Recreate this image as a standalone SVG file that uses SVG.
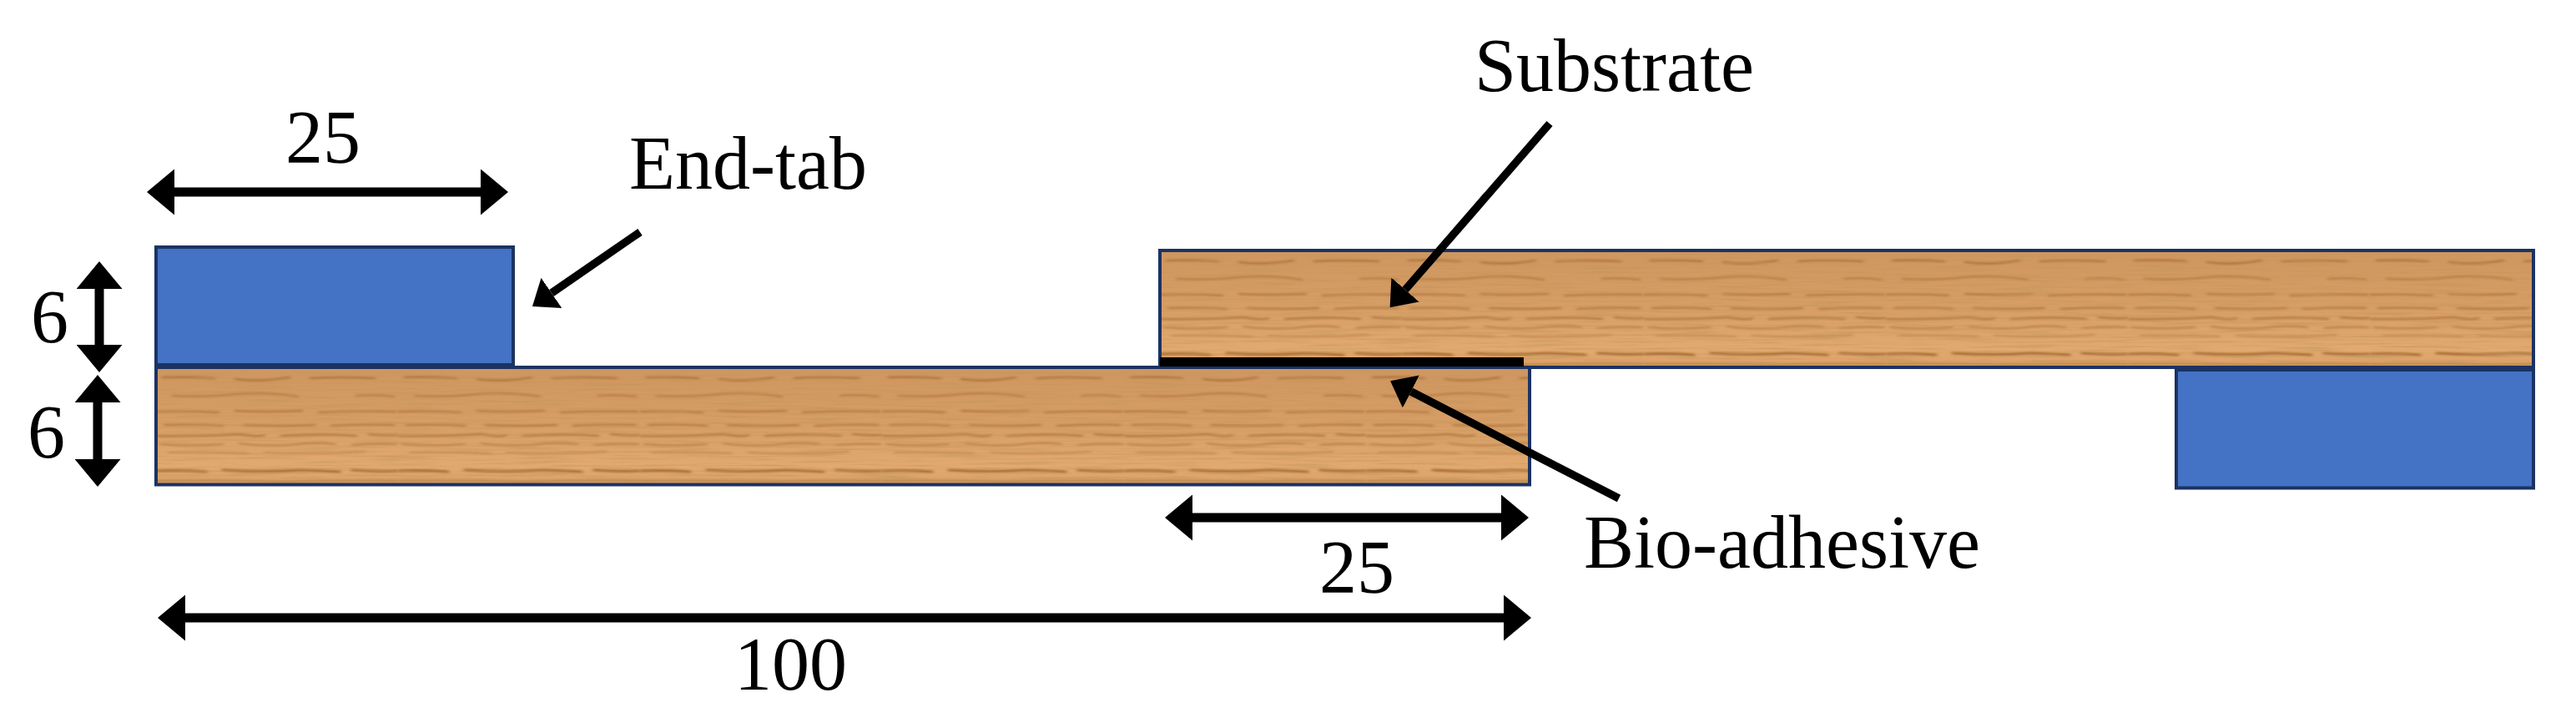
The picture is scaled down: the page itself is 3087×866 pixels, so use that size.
<svg xmlns="http://www.w3.org/2000/svg" width="3087" height="866" viewBox="0 0 3087 866">
<style>
text{font-family:"Liberation Serif","Times New Roman",serif;font-size:90px;fill:#000}
.tab{fill:#4472c4;stroke:#1b3362;stroke-width:4}
.wood{fill:url(#grain)}
.fine{filter:url(#noise)}
.edge{fill:none;stroke:#1b3362;stroke-width:4}
.dim{fill:none;stroke:#000;stroke-width:11;marker-start:url(#dimHead);marker-end:url(#dimHead)}
.lead{fill:none;stroke:#000;stroke-width:9.5;marker-end:url(#leadHead)}
</style>
<defs>
<linearGradient id="woodTone" x1="0" y1="0" x2="0" y2="1">
<stop offset="0" stop-color="#cf9661"/><stop offset=".5" stop-color="#d79e66"/><stop offset=".85" stop-color="#e2aa70"/><stop offset="1" stop-color="#d9a068"/>
</linearGradient>
<filter id="soft" x="-5%" y="-5%" width="110%" height="110%"><feGaussianBlur stdDeviation="2.2 0.9"/></filter>
<pattern id="grain" patternUnits="userSpaceOnUse" width="290" height="140">
<rect width="290" height="140" fill="url(#woodTone)"/>
<g fill="none" stroke="#9a5f28" stroke-linecap="round" filter="url(#soft)">
<path d="M8 12 Q40 11 70 13 M95 14 Q125 18 160 12 M185 13 Q220 11 262 13" stroke-width="2.6" opacity=".6"/>
<path d="M20 34 Q60 36 95 32 Q130 29 170 35 M240 34 Q265 32 285 35" stroke-width="2.6" opacity=".45"/>
<path d="M0 53 Q40 52 75 54 M95 52 Q130 54 175 52 M195 54 Q240 52 288 53" stroke-width="2.4" opacity=".55"/>
<path d="M10 69 Q55 68 80 70 M105 69 Q150 71 190 69 M210 70 Q250 68 285 69" stroke-width="2.4" opacity=".55"/>
<path d="M0 82 Q45 83 100 80 Q125 84 130 81 M150 82 Q200 79 240 82 M255 80 Q275 82 290 81" stroke-width="2.6" opacity=".6"/>
<path d="M5 92 Q40 95 80 92 M100 91 Q125 95 160 93 Q190 89 215 92 M235 93 Q265 91 288 92" stroke-width="2.2" opacity=".5"/>
<path d="M15 102 Q60 101 110 103 M130 102 Q190 105 250 101" stroke-width="2" opacity=".4"/>
<path d="M0 124 Q30 123 60 125 M80 123 Q130 126 175 123 Q200 124 220 125 M235 123 Q265 125 290 124" stroke-width="3.2" opacity=".8"/>
<path d="M0 136 Q70 135 150 137 Q220 135 290 136" stroke-width="2.4" opacity=".45"/>
</g>
</pattern>
<filter id="noise" x="0" y="0" width="100%" height="100%">
<feTurbulence type="fractalNoise" baseFrequency="0.012 0.35" numOctaves="3" seed="7"/>
<feColorMatrix values="0 0 0 0 .55  0 0 0 0 .3  0 0 0 0 .1  0 0 0 1.6 -.72"/>
<feComposite in2="SourceGraphic" operator="in"/>
</filter>
<marker id="dimHead" markerUnits="userSpaceOnUse" markerWidth="33" markerHeight="55" refX="0" refY="27.5" orient="auto-start-reverse"><path d="M0 0L33 27.5L0 55Z" fill="#000"/></marker>
<marker id="leadHead" markerUnits="userSpaceOnUse" markerWidth="28" markerHeight="44" refX="0" refY="22" orient="auto"><path d="M0 0L28 22L0 44Z" fill="#000"/></marker>
</defs>
<rect width="3087" height="866" fill="#fff"/>
<g id="end-tab-left"><rect class="tab" x="187" y="296" width="428" height="141"/></g>
<g id="end-tab-right"><rect class="tab" x="2608" y="443" width="428" height="141.5"/></g>
<g id="substrate-lower" transform="translate(187 440)">
<rect class="wood" width="1646" height="140.5"/><rect class="fine" width="1646" height="140.5"/><rect class="edge" width="1646" height="140.5"/>
</g>
<g id="substrate-upper" transform="translate(1390 300)">
<rect class="wood" width="1646" height="140"/><rect class="fine" width="1646" height="140"/><rect class="edge" width="1646" height="140"/>
</g>
<g id="bio-adhesive"><rect x="1390" y="428" width="436" height="11" fill="#000"/></g>
<g id="connectors">
<line class="dim" x1="209" y1="230" x2="576" y2="230"/>
<line class="dim" x1="119" y1="346" x2="119" y2="413"/>
<line class="dim" x1="117" y1="482" x2="117" y2="550"/>
<line class="dim" x1="1429" y1="620" x2="1799" y2="620"/>
<line class="dim" x1="222" y1="740" x2="1802" y2="740"/>
<line class="lead" x1="767" y1="278" x2="661" y2="351"/>
<line class="lead" x1="1857" y1="148" x2="1684" y2="347"/>
<line class="lead" x1="1940" y1="597" x2="1691" y2="469"/>
</g>
<g id="labels">
<text x="342" y="195">25</text>
<text x="754" y="226">End-tab</text>
<text x="1767" y="109">Substrate</text>
<text x="1898" y="680">Bio-adhesive</text>
<text x="1581" y="710">25</text>
<text x="880" y="826">100</text>
<text x="37" y="410">6</text>
<text x="33" y="548">6</text>
</g>
</svg>
